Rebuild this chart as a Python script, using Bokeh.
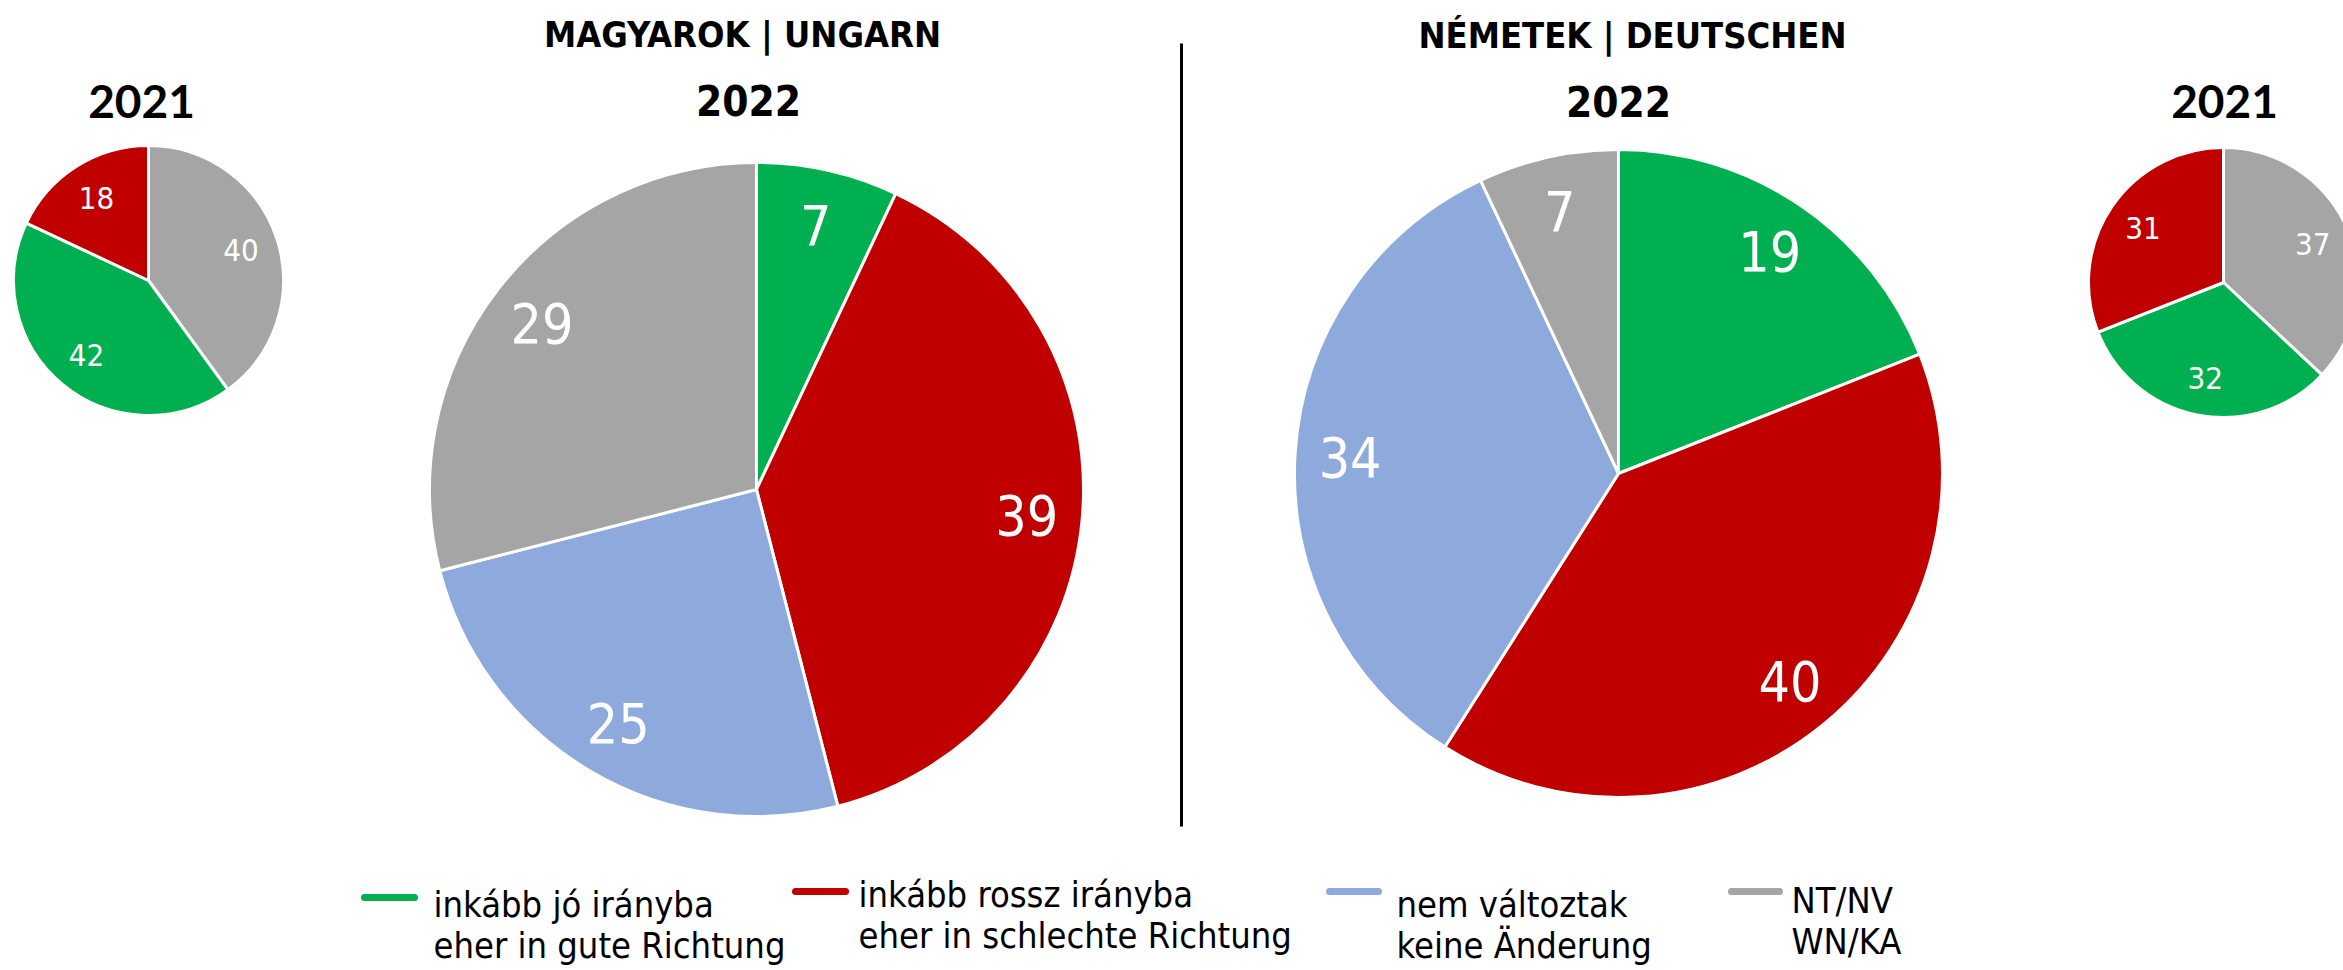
import math
from bokeh.plotting import figure
from bokeh.models import Range1d
from bokeh.core.properties import value
from bokeh.embed import file_html
from bokeh.resources import INLINE

# ---------------- data ----------------
categories = ["inkább jó irányba", "inkább rossz irányba", "nem változtak", "NT/NV"]
categories_de = ["eher in gute Richtung", "eher in schlechte Richtung", "keine Änderung", "WN/KA"]
colors = ["#00B050", "#C00000", "#8EA9DB", "#A5A5A5"]

hu_2022 = [7, 39, 25, 29]
de_2022 = [19, 40, 34, 7]
hu_2021 = [42, 18, 0, 40]
de_2021 = [32, 31, 0, 37]

order_2022 = [0, 1, 2, 3]   # clockwise from 12 o'clock
order_2021 = [3, 0, 1]

group_titles = ["MAGYAROK | UNGARN", "NÉMETEK | DEUTSCHEN"]
year_labels = ["2021", "2022", "2022", "2021"]

# ---------------- layout ----------------
W, H = 2343, 968
TOP = 970  # screen y -> data y = TOP - Y

NARROW = "Noto Sans Condensed, DejaVu Sans Condensed, Liberation Sans, sans-serif"
YEARFONT = "Lato"

p = figure(width=W, height=H, output_backend="svg", toolbar_location=None,
           x_range=Range1d(0, W), y_range=Range1d(TOP - H, TOP),
           min_border=0, outline_line_color=None)
p.axis.visible = False
p.grid.visible = False
p.background_fill_color = "white"
p.border_fill_color = "white"


def Y(y):
    return TOP - y


def draw_pie(vals, order, cx, cy, r, lab_frac, fsize):
    total = float(sum(vals[i] for i in order))
    cum = 0.0
    xs, ys, starts, ends, cols = [], [], [], [], []
    lx, ly, lt = [], [], []
    for i in order:
        v = vals[i]
        if v <= 0:
            continue
        a0 = cum / total * 2 * math.pi
        a1 = (cum + v) / total * 2 * math.pi
        cum += v
        starts.append(math.pi / 2 - a0)
        ends.append(math.pi / 2 - a1)
        cols.append(colors[i])
        xs.append(cx)
        ys.append(Y(cy))
        am = (a0 + a1) / 2
        lx.append(cx + lab_frac * r * math.sin(am))
        ly.append(Y(cy) + lab_frac * r * math.cos(am))
        lt.append(str(v))
    p.wedge(x=xs, y=ys, radius=r, start_angle=starts, end_angle=ends,
            direction="clock", fill_color=cols, line_color="white", line_width=3)
    p.text(x=lx, y=ly, text=lt, text_color="white", text_font=value(NARROW),
           text_font_size=f"{fsize}px", text_align="center", text_baseline="middle")


draw_pie(hu_2021, order_2021, 148, 280, 135, 0.72, 31)
draw_pie(hu_2022, order_2022, 756, 489, 327, 0.83, 55)
draw_pie(de_2022, order_2022, 1618, 473, 324, 0.83, 55)
draw_pie(de_2021, order_2021, 2223, 282, 135, 0.72, 31)

# divider
p.segment(x0=[1181], y0=[Y(43)], x1=[1181], y1=[Y(826)], line_color="black", line_width=3)

# group titles
p.text(x=[742, 1632], y=[Y(34), Y(35)], text=group_titles, text_font=value(NARROW),
       text_font_style="bold", text_font_size="36px", text_align="center",
       text_baseline="middle", text_color="black")

# year labels
p.text(x=[748, 1618], y=[Y(100), Y(101)], text=[year_labels[1], year_labels[2]],
       text_font=value(NARROW), text_font_style="bold", text_font_size="42px",
       text_align="center", text_baseline="middle", text_color="black")
p.text(x=[141, 2224], y=[Y(101), Y(101)], text=[year_labels[0], year_labels[3]],
       text_font=value(YEARFONT), text_font_style="bold", text_font_size="46px",
       text_align="center", text_baseline="middle", text_color="black")

# legend
leg_x0 = [364, 795, 1329, 1731]
leg_x1 = [414, 845, 1378, 1779]
text_x = [433, 858, 1396, 1791]
leg_line_y = [897, 891, 891, 891]
base1 = [904, 894, 904, 900]
base2 = [945, 935, 945, 941]
for k in range(4):
    p.segment(x0=[leg_x0[k]], y0=[Y(leg_line_y[k])], x1=[leg_x1[k]],
              y1=[Y(leg_line_y[k])], line_color=colors[k], line_width=7, line_cap="round")
    p.text(x=[text_x[k]], y=[Y(base1[k])], text=[categories[k]], text_font=value(NARROW),
           text_font_size="36px", text_align="left", text_baseline="alphabetic", text_color="black")
    p.text(x=[text_x[k]], y=[Y(base2[k])], text=[categories_de[k]], text_font=value(NARROW),
           text_font_size="36px", text_align="left", text_baseline="alphabetic", text_color="black")

open("out.html", "w").write(file_html(p, INLINE))
